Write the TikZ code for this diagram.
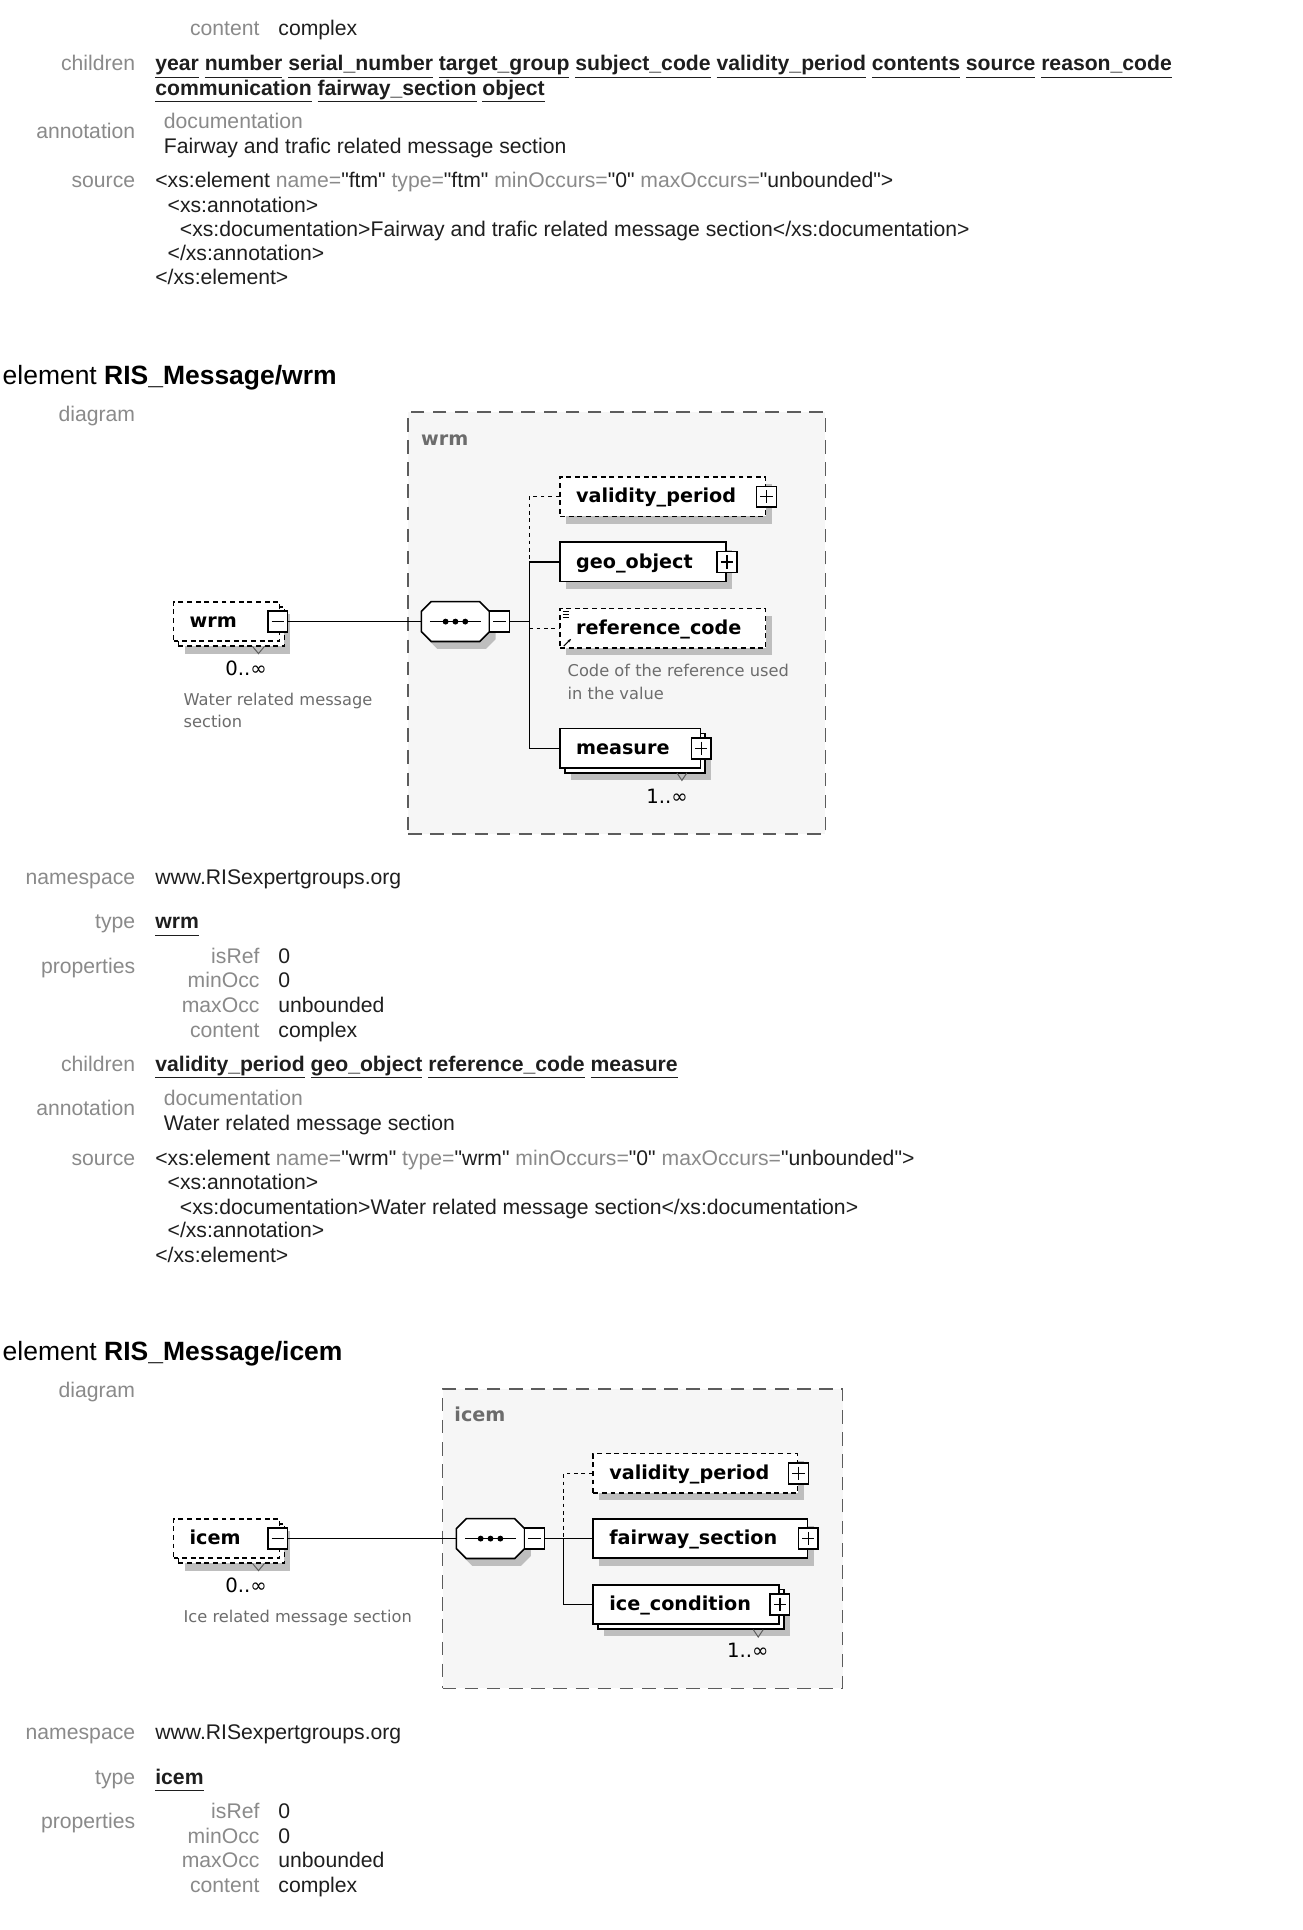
\documentclass[tikz,border=0pt]{standalone}
\usepackage{fontspec}
\setmainfont{Liberation Sans}[Ligatures=TeXOff]
\newfontfamily\dgfont{DejaVu Sans}
\usetikzlibrary{shadows,arrows.meta,calc}

\definecolor{labgrey}{HTML}{8A8A8A}
\definecolor{ink}{HTML}{1E1E1E}
\definecolor{panelfill}{HTML}{F6F6F6}
\definecolor{panelline}{HTML}{5C5C5C}
\definecolor{shade}{HTML}{BEBEBE}
\definecolor{notegrey}{HTML}{6C6C6C}

\newcommand\lnk[1]{\underline{\vphantom{gy}\textbf{#1}}}
\newcommand\attr[1]{\textcolor{labgrey}{#1}}

\tikzset{
  lbl/.style={anchor=base east,inner sep=0pt,yshift=-1.5pt,text=labgrey,font=\fontsize{17.2}{20}\selectfont},
  val/.style={anchor=base west,inner sep=0pt,yshift=-1.5pt,text=ink,font=\fontsize{17.2}{20}\selectfont},
  head/.style={anchor=base west,inner sep=0pt,yshift=-1.5pt,text=black,font=\fontsize{21.5}{24}\selectfont},
  panel/.style={draw=panelline,fill=panelfill,line width=1.2pt,dash pattern=on 11pt off 7pt,
    anchor=north west,inner sep=0pt},
  title/.style={anchor=base west,inner sep=0pt,text=notegrey,font=\dgfont\bfseries\fontsize{15.6}{18}\selectfont},
  sh/.style={drop shadow={shadow xshift=5pt,shadow yshift=-6pt,fill=shade,opacity=1}},
  elem/.style={draw,fill=white,line width=1.3pt,minimum height=32pt,inner ysep=0pt,inner xsep=13pt,
    text width=#1,text height=12pt,text depth=2pt,align=left,
    font=\dgfont\bfseries\fontsize{15.6}{18}\selectfont},
  optelem/.style={elem=#1,dash pattern=on 4pt off 3pt},
  pbox/.style={draw,fill=white,line width=1.1pt,minimum width=16pt,minimum height=17pt,inner sep=0pt},
  minus/.style={pbox,path picture={\draw[line width=1pt]
    ([xshift=3pt]path picture bounding box.west) -- ([xshift=-3pt]path picture bounding box.east);}},
  plus/.style={pbox,path picture={\draw[line width=1pt]
    ([xshift=3pt]path picture bounding box.west) -- ([xshift=-3pt]path picture bounding box.east)
    ([yshift=-3pt]path picture bounding box.north) -- ([yshift=3pt]path picture bounding box.south);}},
  seq/.style={rectangle,minimum width=55pt,minimum height=32pt,inner sep=0pt},
  seqshadow/.style={fill=shade},
  seqbody/.style={fill=white,draw,line width=1.3pt},
  note/.style={anchor=base west,inner sep=0pt,text=notegrey,font=\dgfont\fontsize{13.2}{18}\selectfont},
  mult/.style={anchor=base,inner sep=0pt,font=\dgfont\fontsize{16}{18}\selectfont},
  link/.style={line width=1.2pt},
  optlink/.style={link,dash pattern=on 3pt off 3pt},
  caret/.style={line width=0.8pt,draw=panelline}
}

% octagon of a sequence compositor, with its shadow and three dots
\newcommand\seqshape[1]{%
  \foreach \dx/\dy/\st in {5/6/seqshadow,0/0/seqbody}
    \path[\st] ($(#1.north west)+(8+\dx,\dy)$) -- ($(#1.north east)+(-8+\dx,\dy)$)
      -- ($(#1.north east)+(\dx,8+\dy)$) -- ($(#1.south east)+(\dx,-8+\dy)$)
      -- ($(#1.south east)+(-8+\dx,\dy)$) -- ($(#1.south west)+(8+\dx,\dy)$)
      -- ($(#1.south west)+(\dx,-8+\dy)$) -- ($(#1.north west)+(\dx,8+\dy)$) -- cycle;
  \draw[line width=1.2pt] ([xshift=7pt]#1.west) -- ([xshift=-7pt]#1.east);
  \fill ([xshift=-8pt]#1.center) circle (2.4pt) (#1.center) circle (2.4pt) ([xshift=8pt]#1.center) circle (2.4pt);}

\begin{document}
\begin{tikzpicture}[x=1pt,y=-1pt]
\useasboundingbox[fill=white] (0,0) rectangle (1058,1568);

% end of the ftm element
\node[lbl] (ftmcl) at (211,27) {content};
\node[val] (ftmcv) at (226,27) {complex};
\node[lbl] (ftmchl) at (110,56) {children};
\node[val] (ftmch1) at (126,56) {\lnk{year} \lnk{number} \lnk{serial\_number} \lnk{target\_group} \lnk{subject\_code} \lnk{validity\_period} \lnk{contents} \lnk{source} \lnk{reason\_code}};
\node[val] (ftmch2) at (126,76) {\lnk{communication} \lnk{fairway\_section} \lnk{object}};
\node[lbl] (ftmanl) at (110,111) {annotation};
\node[val,text=labgrey] (ftmdoc) at (133,103) {documentation};
\node[val] (ftmdv) at (133,123) {Fairway and trafic related message section};
\node[lbl] (ftmsrl) at (110,151) {source};
\node[val] (ftmsr1) at (126,151) {<xs:element \attr{name=}"ftm" \attr{type=}"ftm" \attr{minOccurs=}"0" \attr{maxOccurs=}"unbounded">};
\node[val] (ftmsr2) at (136,171) {<xs:annotation>};
\node[val] (ftmsr3) at (146,191) {<xs:documentation>Fairway and trafic related message section</xs:documentation>};
\node[val] (ftmsr4) at (136,210) {</xs:annotation>};
\node[val] (ftmsr5) at (126,230) {</xs:element>};

% element wrm
\node[head] (wrmhead) at (2,311) {element \textbf{RIS\_Message/wrm}};
\node[lbl] (wrmdgl) at (110,341) {diagram};
\node[panel,minimum width=339pt,minimum height=343pt] (wrmpanel) at (331,334) {};
\node[title] (wrmtitle) at (342,362) {wrm};

\node[optelem=60pt,sh] (wrmback) at (188,509) {};
\node[optelem=60pt] (wrm) at (184,505) {wrm};
\node[minus] (wrmm) at ([xshift=-2pt]wrm.east) {};
\draw[caret] (205,525) -- (210,531) -- (215,525);
\node[mult] (wrmmult) at (200,549) {0..∞};
\node[note] (wrmnote1) at (149,573) {Water related message};
\node[note] (wrmnote2) at (149,591) {section};

\node[seq] (wrmseq) at (370,505) {};
\seqshape{wrmseq}
\node[minus] (wrmsm) at ([xshift=8pt]wrmseq.east) {};
\coordinate (wrmj) at (430,505);

\node[optelem=141pt,sh] (wvp) at (538.5,403.5) {validity\_period};
\node[plus] (wvpp) at (wvp.east) {};
\node[elem=109pt,sh] (wgo) at (522.5,456.5) {geo\_object};
\node[plus] (wgop) at (wgo.east) {};
\node[optelem=141pt,sh] (wrc) at (538.5,510.5) {reference\_code};
\draw[line width=0.7pt] (457,497) -- (462,497) (457,499.5) -- (462,499.5) (457,502) -- (462,502);
\draw[line width=0.9pt,-{Stealth[length=3pt]}] (458,525) -- (464,519);
\node[note] (wrcnote1) at (461,550) {Code of the reference used};
\node[note] (wrcnote2) at (461,568) {in the value};
\node[elem=88pt,sh] (wmsback) at (516,612) {};
\node[elem=88pt] (wms) at (512,608) {measure};
\node[plus] (wmsp) at (wms.east) {};
\draw[caret] (550,628) -- (554,634) -- (558,628);
\node[mult] (wmsmult) at (542,653) {1..∞};

\draw[link] (wrmm.east) -- (wrmseq.west);
\draw[link] (wrmsm.east) -- (wrmj);
\draw[optlink] (wvp.west) -- (wrmj |- wvp.west) -- (wrmj |- wgo.west);
\draw[link] (wgo.west) -- (wrmj |- wgo.west) -- (wrmj |- wms.west) -- (wms.west);
\draw[optlink] (wrmj |- wrc.west) -- (wrc.west);

\node[lbl] (wrmnsl) at (110,717) {namespace};
\node[val] (wrmns) at (126,717) {www.RISexpertgroups.org};
\node[lbl] (wrmtyl) at (110,753) {type};
\node[val] (wrmty) at (126,753) {\lnk{wrm}};
\node[lbl] (wrmprl) at (110,789) {properties};
\node[lbl] (wrmp1l) at (211,781) {isRef};
\node[val] (wrmp1) at (226,781) {0};
\node[lbl] (wrmp2l) at (211,801) {minOcc};
\node[val] (wrmp2) at (226,801) {0};
\node[lbl] (wrmp3l) at (211,821) {maxOcc};
\node[val] (wrmp3) at (226,821) {unbounded};
\node[lbl] (wrmp4l) at (211,841) {content};
\node[val] (wrmp4) at (226,841) {complex};
\node[lbl] (wrmchl) at (110,869) {children};
\node[val] (wrmch) at (126,869) {\lnk{validity\_period} \lnk{geo\_object} \lnk{reference\_code} \lnk{measure}};
\node[lbl] (wrmanl) at (110,905) {annotation};
\node[val,text=labgrey] (wrmdoc) at (133,897) {documentation};
\node[val] (wrmdv) at (133,917) {Water related message section};
\node[lbl] (wrmsrl) at (110,945) {source};
\node[val] (wrmsr1) at (126,945) {<xs:element \attr{name=}"wrm" \attr{type=}"wrm" \attr{minOccurs=}"0" \attr{maxOccurs=}"unbounded">};
\node[val] (wrmsr2) at (136,965) {<xs:annotation>};
\node[val] (wrmsr3) at (146,985) {<xs:documentation>Water related message section</xs:documentation>};
\node[val] (wrmsr4) at (136,1004) {</xs:annotation>};
\node[val] (wrmsr5) at (126,1024) {</xs:element>};

% element icem
\node[head] (icmhead) at (2,1104) {element \textbf{RIS\_Message/icem}};
\node[lbl] (icmdgl) at (110,1134) {diagram};
\node[panel,minimum width=325pt,minimum height=243pt] (icmpanel) at (359,1128) {};
\node[title] (icmtitle) at (369,1155) {icem};

\node[optelem=60pt,sh] (icmback) at (188,1254) {};
\node[optelem=60pt] (icm) at (184,1250) {icem};
\node[minus] (icmm) at ([xshift=-2pt]icm.east) {};
\draw[caret] (205,1270) -- (210,1276) -- (215,1270);
\node[mult] (icmmult) at (200,1294) {0..∞};
\node[note] (icmnote) at (149,1318) {Ice related message section};

\node[seq] (icmseq) at (398.5,1250) {};
\seqshape{icmseq}
\node[minus] (icmsm) at ([xshift=8pt]icmseq.east) {};
\coordinate (icmj) at (458,1250);

\node[optelem=140pt,sh] (ivp) at (565,1197) {validity\_period};
\node[plus] (ivpp) at (ivp.east) {};
\node[elem=148pt,sh] (ifs) at (569,1250) {fairway\_section};
\node[plus] (ifsp) at (ifs.east) {};
\node[elem=125pt,sh] (iicb) at (561.5,1307.5) {};
\node[elem=125pt] (iic) at (557.5,1303.5) {ice\_condition};
\node[plus] (iicp) at (iic.east) {};
\draw[caret] (612,1324) -- (616,1330) -- (620,1324);
\node[mult] (iicmult) at (607.5,1347) {1..∞};

\draw[link] (icmm.east) -- (icmseq.west);
\draw[link] (icmsm.east) -- (ifs.west);
\draw[optlink] (ivp.west) -- (icmj |- ivp.west) -- (icmj);
\draw[link] (icmj) -- (icmj |- iic.west) -- (iic.west);

\node[lbl] (icmnsl) at (110,1412) {namespace};
\node[val] (icmns) at (126,1412) {www.RISexpertgroups.org};
\node[lbl] (icmtyl) at (110,1448) {type};
\node[val] (icmty) at (126,1448) {\lnk{icem}};
\node[lbl] (icmprl) at (110,1484) {properties};
\node[lbl] (icmp1l) at (211,1476) {isRef};
\node[val] (icmp1) at (226,1476) {0};
\node[lbl] (icmp2l) at (211,1496) {minOcc};
\node[val] (icmp2) at (226,1496) {0};
\node[lbl] (icmp3l) at (211,1516) {maxOcc};
\node[val] (icmp3) at (226,1516) {unbounded};
\node[lbl] (icmp4l) at (211,1536) {content};
\node[val] (icmp4) at (226,1536) {complex};
\end{tikzpicture}
\end{document}
